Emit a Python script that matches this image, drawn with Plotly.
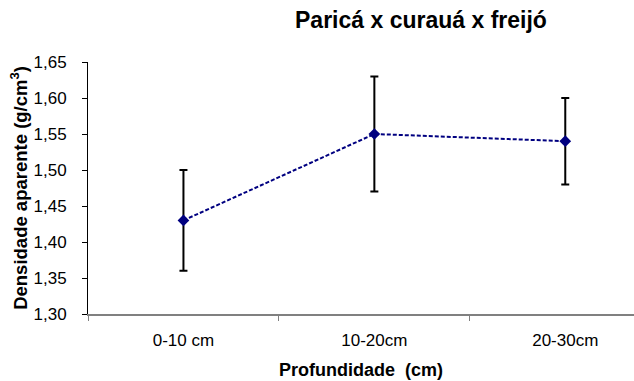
import plotly.graph_objects as go

categories = ["0-10 cm", "10-20cm", "20-30cm"]
values = [1.43, 1.55, 1.54]
err_plus = [0.07, 0.08, 0.06]
err_minus = [0.07, 0.08, 0.06]
y_ticks = [1.30, 1.35, 1.40, 1.45, 1.50, 1.55, 1.60, 1.65]
y_tick_labels = ["1,30", "1,35", "1,40", "1,45", "1,50", "1,55", "1,60", "1,65"]

fig = go.Figure()
fig.add_trace(go.Scatter(
    x=categories, y=values, mode="lines+markers",
    line=dict(color="#000080", width=2, dash="4px,2px"),
    marker=dict(symbol="diamond", size=9, color="#000080"),
    error_y=dict(type="data", symmetric=False, array=err_plus, arrayminus=err_minus,
                 color="black", thickness=2, width=4),
    showlegend=False,
))

font = "Arial, Liberation Sans, sans-serif"
fig.update_layout(
    width=634, height=381,
    margin=dict(l=88, r=0, t=62, b=67),
    paper_bgcolor="white", plot_bgcolor="white",
    font=dict(family=font, size=17, color="black"),
    title=dict(text="<b>Paricá x curauá x freijó</b>", x=0.664, xanchor="center",
               y=0.947, yanchor="middle", font=dict(size=23, family=font)),
    xaxis=dict(
        type="category", range=[-0.5, 2.36], tickson="boundaries",
        ticks="outside", ticklen=5, tickcolor="#808080",
        showline=True, linecolor="#808080", linewidth=2,
        showgrid=False, zeroline=False, ticklabelstandoff=10,
        title=dict(text="<b>Profundidade  (cm)</b>", font=dict(size=18), standoff=14),
        tickfont=dict(size=17),
        automargin=False,
    ),
    yaxis=dict(
        range=[1.30, 1.65], tickvals=y_ticks, ticktext=y_tick_labels,
        ticks="outside", ticklen=5, tickcolor="black",
        showline=True, linecolor="black", linewidth=1,
        showgrid=False, zeroline=False, ticklabelstandoff=12,
        title=dict(text="<b>Densidade aparente (g/cm<sup>3</sup>)</b>", font=dict(size=18.5), standoff=1),
        tickfont=dict(size=17),
        automargin=False,
    ),
)

fig.write_html("out.html")
